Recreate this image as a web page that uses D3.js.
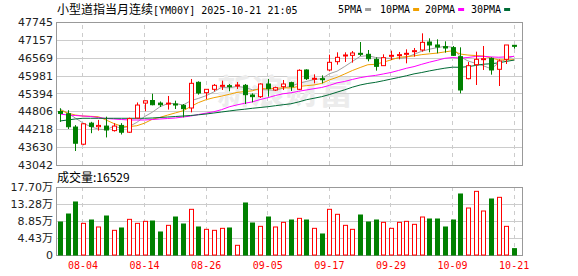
<!DOCTYPE html>
<html>
<head>
<meta charset="utf-8">
<script src="https://cdn.jsdelivr.net/npm/d3@7"></script>
<style>
body { margin: 0; background: #fff; }
svg text { font-family: "DejaVu Sans", sans-serif; }
</style>
</head>
<body>
<svg width="578" height="276"></svg>
<script>
// Data
const dates = ["07-30","07-31","08-01","08-04","08-05","08-06","08-07","08-08","08-11","08-12",
  "08-13","08-14","08-15","08-18","08-19","08-20","08-21","08-22","08-25","08-26",
  "08-27","08-28","08-29","09-01","09-02","09-03","09-04","09-05","09-08","09-09",
  "09-10","09-11","09-12","09-15","09-16","09-17","09-18","09-19","09-22","09-23",
  "09-24","09-25","09-26","09-29","09-30","10-01","10-02","10-03","10-06","10-07",
  "10-08","10-09","10-10","10-13","10-14","10-15","10-16","10-17","10-20","10-21"];
const open  = [44801,44727,44290,43726,44418,44301,44322,44173,44344,44120,
  44588,45078,45163,45078,45046,45048,45005,44917,45761,45421,
  45531,45640,45651,45651,45662,45344,45290,45706,45509,45619,
  45750,45531,46167,45871,45881,46167,46441,46627,46649,46715,
  46682,46517,46309,46627,46649,46682,46770,46824,47087,46989,
  46934,46901,46605,45881,46342,46517,46550,46189,46517,46978];
const high  = [44908,44844,44354,44418,44461,44525,44631,44418,44418,44599,
  45099,45163,45387,45131,45312,45158,45048,45871,45794,45541,
  45706,45816,45706,45772,45706,45399,45728,45871,45619,45838,
  45783,46189,46189,46024,45991,46671,46748,46748,46791,47087,
  46824,46583,46682,46802,46759,46846,46890,47372,47208,47175,
  47109,46956,46912,46430,46770,46956,46583,46517,46989,46978];
const low   = [44461,44226,43502,43694,44088,44173,43949,44141,44045,44099,
  44578,44812,45004,44950,44865,44884,44610,44774,45355,45213,
  45465,45509,45465,45542,45048,45103,45246,45290,45476,45509,
  45476,45509,45838,45728,45728,46123,46342,46430,46408,46627,
  46452,46145,46309,46495,46517,46386,46605,46770,46748,46715,
  46737,46627,45399,45860,45673,46167,46013,45640,46364,46868];
const close = [44738,44301,43758,44397,44311,44344,44194,44322,44120,44567,
  45014,45153,45025,45025,45078,45015,44895,45728,45410,45531,
  45662,45662,45629,45673,45355,45290,45706,45553,45586,45706,
  45618,46156,45881,45893,45860,46419,46583,46660,46726,46682,
  46539,46287,46572,46649,46671,46715,46802,47076,46989,46923,
  46890,46649,45509,46309,46517,46539,46167,46463,46989,46967];
const volume = [85900,106700,138000,82400,91100,72900,101500,64200,70300,92800,
  82400,87600,88500,59900,77200,98900,80700,118900,72900,66800,
  64200,69400,70300,25200,135400,83300,74600,98900,72900,85000,
  91100,95400,91100,69400,54700,118900,105900,77200,66800,104100,
  85900,91100,85000,69400,85000,87600,79800,98900,93700,93700,
  72900,91100,158800,122300,165700,114500,145800,150100,74600,16529];
const ma5  = [44884,44752,44588,44423,44301,44222,44201,44314,44258,44309,
  44443,44635,44776,44957,45059,45066,45014,45155,45232,45322,
  45445,45599,45579,45627,45592,45517,45526,45511,45498,45568,
  45634,45724,45789,45851,45882,46042,46127,46283,46450,46614,
  46638,46579,46561,46546,46544,46579,46682,46783,46851,46901,
  46945,46914,46601,46465,46384,46305,46208,46399,46535,46625];
const ma10 = [44851,44752,44686,44653,44643,44630,44522,44407,44318,44305,
  44333,44418,44545,44608,44684,44755,44825,44965,45094,45191,
  45256,45306,45367,45429,45457,45481,45562,45545,45563,45580,
  45576,45625,45650,45674,45725,45838,45926,46036,46150,46248,
  46340,46353,46422,46498,46579,46608,46630,46672,46698,46722,
  46762,46798,46692,46658,46642,46625,46561,46500,46500,46504];
const ma20 = [44719,44686,44670,44653,44637,44604,44571,44555,44538,44522,
  44522,44522,44538,44555,44571,44588,44620,44653,44703,44748,
  44794,44862,44956,45018,45071,45118,45194,45255,45328,45385,
  45416,45466,45509,45552,45591,45660,45744,45791,45856,45914,
  45958,45989,46036,46086,46152,46223,46278,46354,46424,46485,
  46551,46576,46557,46578,46611,46617,46596,46586,46599,46613];
const ma30 = [44489,44522,44555,44578,44578,44578,44578,44578,44578,44578,
  44578,44578,44588,44604,44620,44637,44653,44670,44693,44719,
  44752,44785,44818,44851,44877,44907,44933,44959,44992,45025,
  45055,45116,45187,45237,45289,45358,45438,45515,45602,45673,
  45724,45761,45813,45867,45920,45976,46039,46084,46137,46183,
  46226,46259,46255,46277,46315,46357,46372,46403,46450,46492];
const priceTicks = [43042,43630,44218,44806,45394,45981,46569,47157,47745];
const volTicks = [0,44300,88500,132800,177000];
const dateTicks = ["08-04","08-14","08-26","09-05","09-17","09-29","10-09","10-21"];
const maNames = ["5PMA","10PMA","20PMA","30PMA"];
const maColors = ["#a0a0a0","#f0a000","#ff00ff","#006b35"];

// Layout
const frameLeft = 56, frameRight = 522;
const main = { top: 22, bottom: 165 };
const vol = { top: 187, bottom: 255 };
const up = "#ff0000", down = "#008000";

const svg = d3.select("svg");

const x = d3.scaleBand().domain(dates).range([frameLeft, 518])
  .paddingInner(0.35).paddingOuter(0.175);
const cx = d => x(d) + x.bandwidth() / 2;
const y = d3.scaleLinear().domain([43042, 47745]).range([main.bottom, main.top]);
const yv = d3.scaleLinear().domain([0, 177000]).range([vol.bottom, vol.top]);

// Title and legend
const title = svg.append("text").attr("x", 57).attr("y", 14).attr("fill", "#000");
title.append("tspan").style("font-family", "'Noto Sans CJK SC'").style("font-size", "12px").text("小型道指当月连续");
title.append("tspan").style("font-family", "'DejaVu Sans Mono'").style("font-size", "10px").text("[YM00Y] 2025-10-21 21:05");

const legendX = [338, 380, 425, 471];
maNames.forEach((n, k) => {
  const t = svg.append("text").attr("x", legendX[k]).attr("y", 13)
    .style("font-family", "'DejaVu Sans Mono'").style("font-size", "10px").attr("fill", "#000").text(n);
  const w = t.node().getComputedTextLength();
  svg.append("line").attr("x1", legendX[k] + w + 3).attr("x2", legendX[k] + w + 9)
    .attr("y1", 9.5).attr("y2", 9.5).attr("stroke", maColors[k]).attr("stroke-width", 3);
});

// Main panel grid
const gMain = svg.append("g");
gMain.append("g")
  .attr("transform", `translate(${frameLeft},0)`)
  .call(d3.axisLeft(y).tickValues(priceTicks).tickFormat(d3.format("d"))
    .tickSize(-(frameRight - frameLeft)).tickPadding(3))
  .call(g => g.select(".domain").remove())
  .call(g => g.selectAll(".tick line").attr("stroke", "#cccccc").attr("shape-rendering", "crispEdges"))
  .call(g => g.selectAll(".tick text").attr("fill", "#222").style("font-size", "11px"));
gMain.append("g")
  .attr("transform", `translate(0,${main.bottom})`)
  .call(d3.axisBottom(x).tickValues(dateTicks).tickSize(-(main.bottom - main.top)).tickFormat(""))
  .call(g => g.select(".domain").remove())
  .call(g => g.selectAll(".tick line").attr("stroke", "#cccccc").attr("stroke-dasharray", "4,4").attr("shape-rendering", "crispEdges"));

// Watermark
svg.append("text").attr("x", 285).attr("y", 104).attr("text-anchor", "middle")
  .style("font-family", "'Noto Sans CJK SC'").style("font-size", "34px").style("font-weight", "bold")
  .attr("fill", "#ececec").text("新浪财富");

svg.append("rect").attr("x", frameLeft + 0.5).attr("y", main.top + 0.5)
  .attr("width", frameRight - frameLeft).attr("height", main.bottom - main.top)
  .attr("fill", "none").attr("stroke", "#999");

// MA lines
[ma5, ma10, ma20, ma30].forEach((arr, k) => {
  const line = d3.line().x((v, i) => cx(dates[i])).y(v => y(v));
  svg.append("path").datum(arr).attr("d", line).attr("fill", "none")
    .attr("stroke", maColors[k]).attr("stroke-width", 1);
});

// Candles
const candles = svg.append("g").selectAll("g").data(dates).join("g");
candles.append("line")
  .attr("x1", d => Math.round(cx(d)) + 0.5).attr("x2", d => Math.round(cx(d)) + 0.5)
  .attr("y1", (d, i) => y(high[i])).attr("y2", (d, i) => y(low[i]))
  .attr("stroke", (d, i) => close[i] >= open[i] ? up : down);
candles.append("rect")
  .attr("x", d => Math.round(cx(d)) - 2 + 0.5)
  .attr("width", 4)
  .attr("y", (d, i) => y(Math.max(open[i], close[i])))
  .attr("height", (d, i) => Math.max(1, Math.abs(y(open[i]) - y(close[i]))))
  .attr("fill", (d, i) => close[i] >= open[i] ? "#fff" : down)
  .attr("stroke", (d, i) => close[i] >= open[i] ? up : down);

// Volume panel
svg.append("text").attr("x", 57).attr("y", 182)
  .style("font-family", "'Noto Sans CJK SC'").style("font-size", "12px").attr("fill", "#000")
  .text("成交量:" + volume[volume.length - 1]);

svg.append("g")
  .attr("transform", `translate(${frameLeft},0)`)
  .call(d3.axisLeft(yv).tickValues(volTicks).tickSize(-(frameRight - frameLeft)).tickPadding(3)
    .tickFormat(v => v === 0 ? "0" : (v / 10000).toFixed(2) + "万"))
  .call(g => g.select(".domain").remove())
  .call(g => g.selectAll(".tick line").attr("stroke", "#cccccc").attr("shape-rendering", "crispEdges"))
  .call(g => g.selectAll(".tick text").attr("fill", "#222").style("font-size", "11px")
    .style("font-family", "'DejaVu Sans','Noto Sans CJK SC'"));
svg.append("g")
  .attr("transform", `translate(0,${vol.bottom})`)
  .call(d3.axisBottom(x).tickValues(dateTicks).tickSize(-(vol.bottom - vol.top)).tickPadding(7))
  .call(g => g.select(".domain").remove())
  .call(g => g.selectAll(".tick line").attr("stroke", "#cccccc").attr("stroke-dasharray", "4,4").attr("shape-rendering", "crispEdges"))
  .call(g => g.selectAll(".tick text").attr("fill", "#ff0000").style("font-size", "10px")
    .style("font-family", "'DejaVu Sans Mono'"));

svg.append("rect").attr("x", frameLeft + 0.5).attr("y", vol.top + 0.5)
  .attr("width", frameRight - frameLeft).attr("height", vol.bottom - vol.top)
  .attr("fill", "none").attr("stroke", "#999");

svg.append("g").selectAll("rect").data(dates).join("rect")
  .attr("x", d => Math.round(cx(d)) - 2 + 0.5)
  .attr("width", 4)
  .attr("y", (d, i) => yv(volume[i]))
  .attr("height", (d, i) => vol.bottom - yv(volume[i]))
  .attr("fill", (d, i) => close[i] >= open[i] ? "#fff" : down)
  .attr("stroke", (d, i) => close[i] >= open[i] ? up : down);
</script>
</body>
</html>
